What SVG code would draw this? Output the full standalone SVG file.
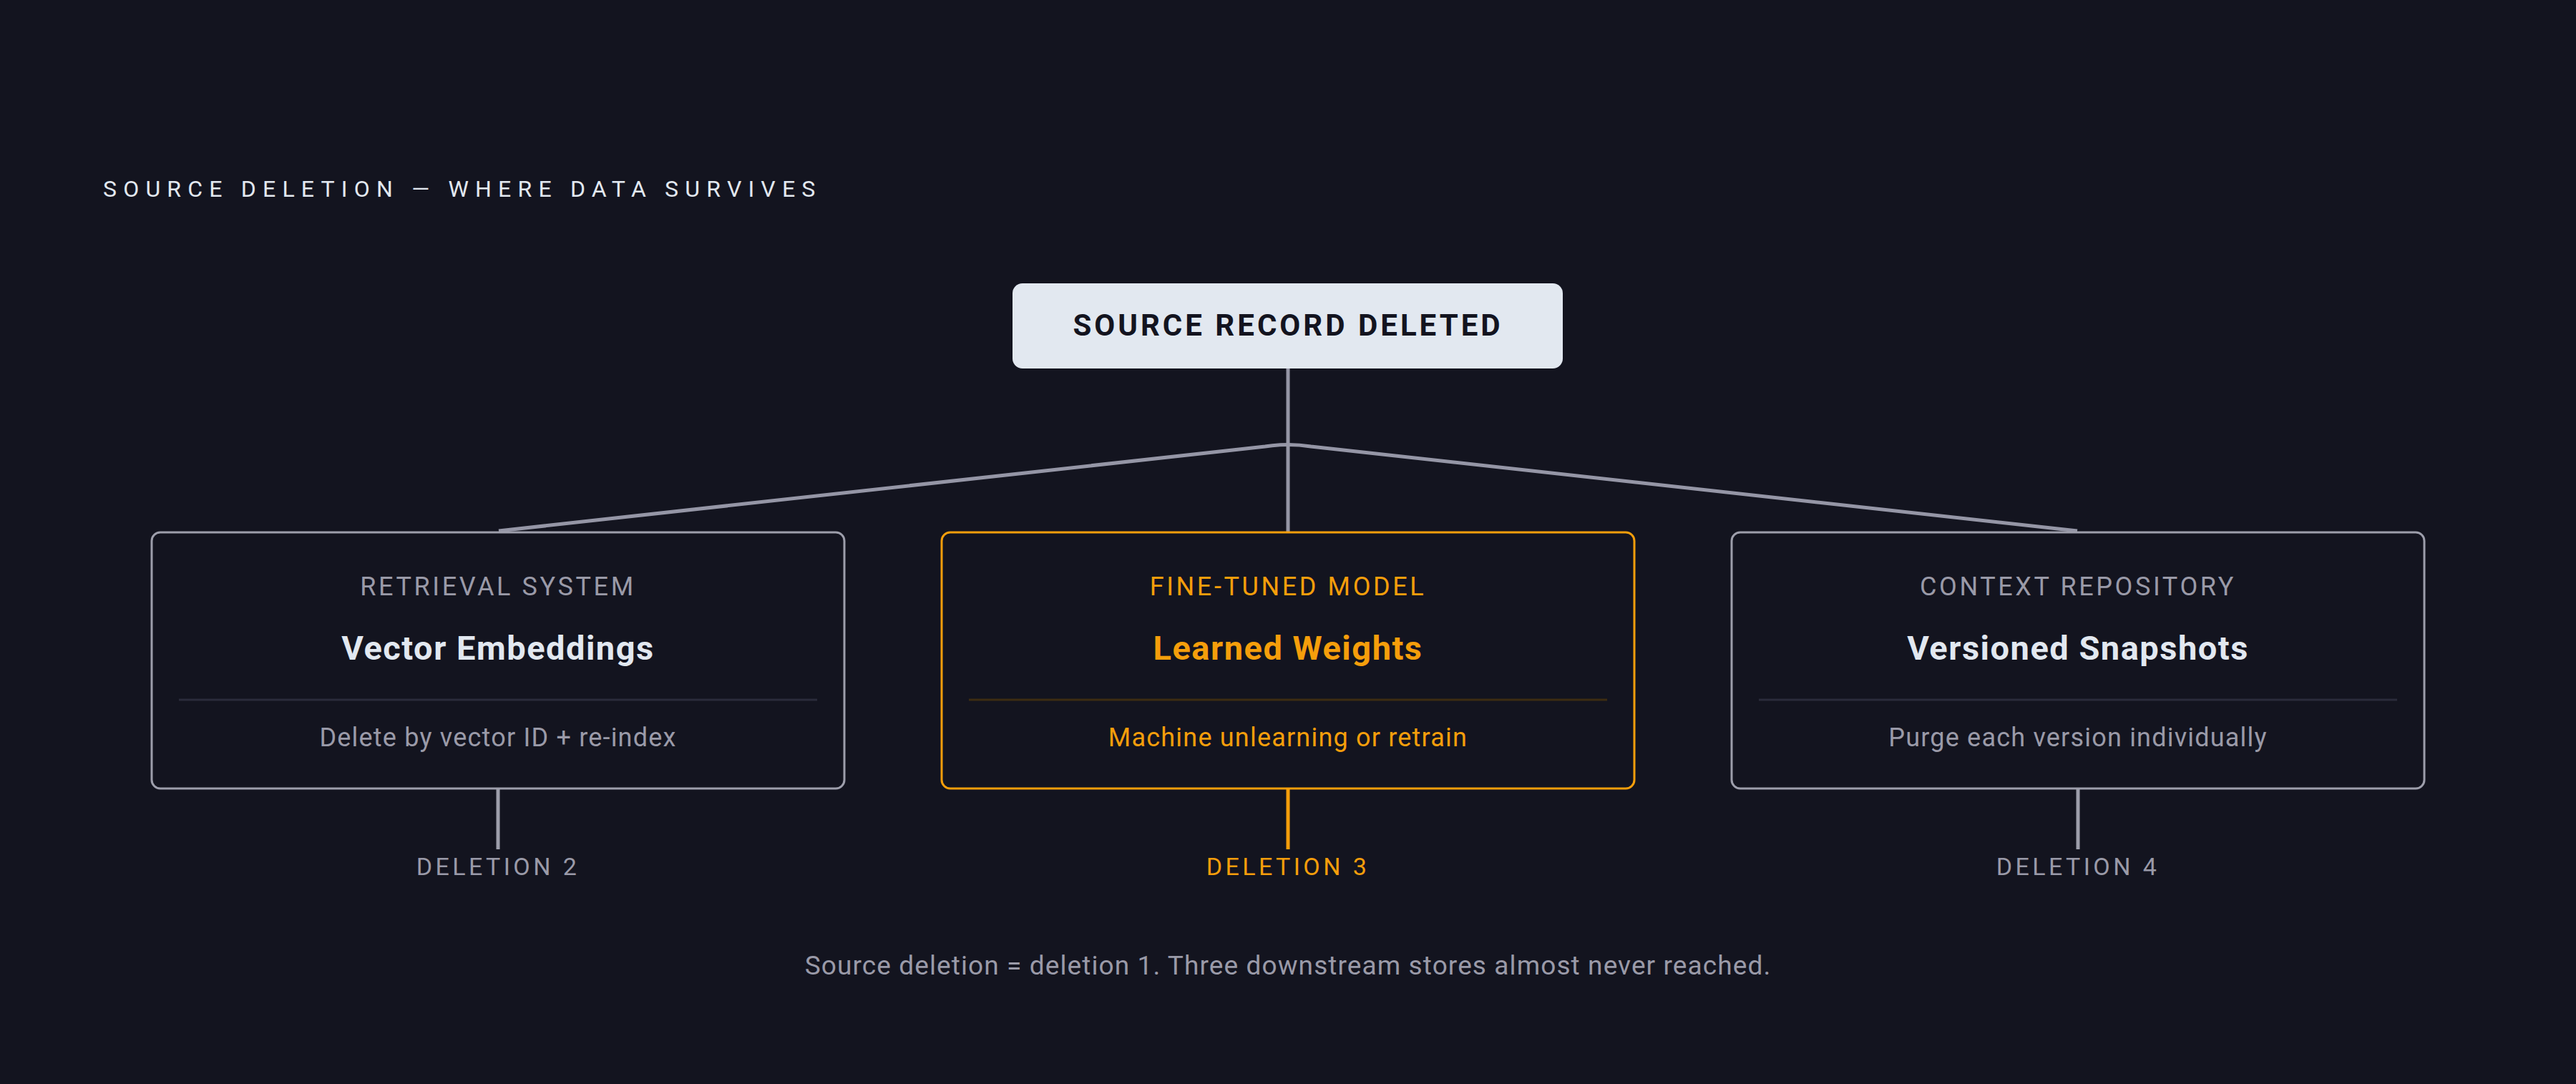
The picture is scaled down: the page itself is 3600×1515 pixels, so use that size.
<svg xmlns="http://www.w3.org/2000/svg" width="3600" height="1515" viewBox="0 0 3600 1515">
<style>
text{font-family:Roboto,"Liberation Sans",Arial,sans-serif}
.title{font-size:32px;fill:#e2e8f0;letter-spacing:9.2px}
.top{font-size:42px;font-weight:700;fill:#13141f;letter-spacing:4px}
.cat{font-size:36px;fill:#9a9aa8;letter-spacing:3.6px;text-anchor:middle}
.name{font-size:47px;font-weight:700;fill:#e2e8f0;letter-spacing:1.5px;text-anchor:middle}
.desc{font-size:36px;fill:#9a9aa8;letter-spacing:1.2px;text-anchor:middle}
.del{font-size:34px;fill:#9a9aa8;letter-spacing:4.4px;text-anchor:middle}
.hl{fill:#f59e0b}
.box{fill:#13141f;stroke:#9d9eab;stroke-width:3}
.box.hlb{stroke:#f59e0b}
.div{stroke:#2a2b3b;stroke-width:3}
.div.hld{stroke:#3d2c12}
.con{fill:none;stroke:#9596a6;stroke-width:5}
.stub{stroke:#9d9eab;stroke-width:5}
.stub.hls{stroke:#f59e0b}
.foot{font-size:37px;fill:#9a9aa8;letter-spacing:1.1px;text-anchor:middle}
</style>
<rect width="3600" height="1515" fill="#13141f"/>
<text class="title" x="144" y="275">SOURCE DELETION — WHERE DATA SURVIVES</text>
<g id="connectors">
<line class="con" x1="1800" y1="515" x2="1800" y2="744"/>
<path class="con" stroke-width="6" d="M697 742 L1768 624 Q1800 619 1832 624 L2903 742"/>
<line class="stub" x1="696" y1="1102" x2="696" y2="1187"/>
<line class="stub hls" x1="1800" y1="1102" x2="1800" y2="1187"/>
<line class="stub" x1="2904" y1="1102" x2="2904" y2="1187"/>
</g>
<g id="source">
<rect x="1415" y="396" width="769" height="119" rx="14" fill="#e2e8f0"/>
<text class="top" x="1800" y="469" text-anchor="middle">SOURCE RECORD DELETED</text>
</g>
<g id="retrieval">
<rect class="box" x="212" y="744" width="968" height="358" rx="12"/>
<text class="cat" x="696" y="832">RETRIEVAL SYSTEM</text>
<text class="name" x="696" y="922">Vector Embeddings</text>
<line class="div" x1="250" y1="978" x2="1142" y2="978"/>
<text class="desc" x="696" y="1043">Delete by vector ID + re-index</text>
<text class="del" x="696" y="1223">DELETION 2</text>
</g>
<g id="finetuned">
<rect class="box hlb" x="1316" y="744" width="968" height="358" rx="12"/>
<text class="cat hl" x="1800" y="832">FINE-TUNED MODEL</text>
<text class="name hl" x="1800" y="922">Learned Weights</text>
<line class="div hld" x1="1354" y1="978" x2="2246" y2="978"/>
<text class="desc hl" x="1800" y="1043">Machine unlearning or retrain</text>
<text class="del hl" x="1800" y="1223">DELETION 3</text>
</g>
<g id="context">
<rect class="box" x="2420" y="744" width="968" height="358" rx="12"/>
<text class="cat" x="2904" y="832">CONTEXT REPOSITORY</text>
<text class="name" x="2904" y="922">Versioned Snapshots</text>
<line class="div" x1="2458" y1="978" x2="3350" y2="978"/>
<text class="desc" x="2904" y="1043">Purge each version individually</text>
<text class="del" x="2904" y="1223">DELETION 4</text>
</g>
<text class="foot" x="1800" y="1362">Source deletion = deletion 1. Three downstream stores almost never reached.</text>
</svg>
